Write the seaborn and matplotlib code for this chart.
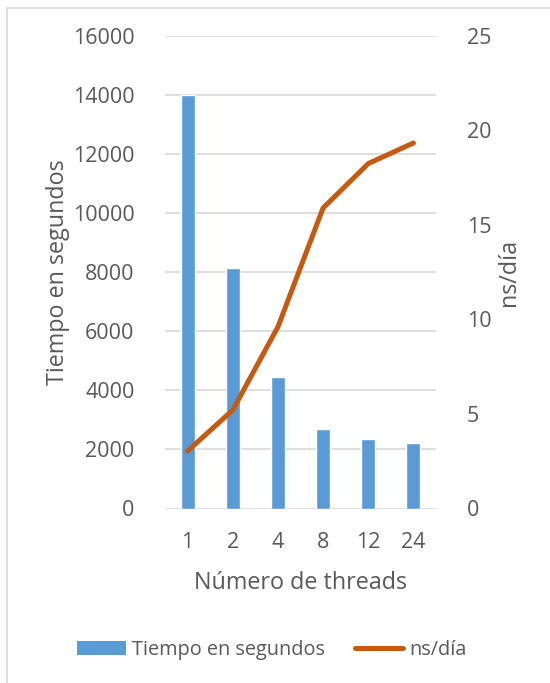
import matplotlib
matplotlib.use("Agg")
import matplotlib.pyplot as plt
import seaborn as sns
import pandas as pd
import numpy as np
from matplotlib.patches import Rectangle
from matplotlib.lines import Line2D
from matplotlib.patches import Patch

# Data
threads = ["1", "2", "4", "8", "12", "24"]
tiempo_segundos = [14000, 8150, 4440, 2680, 2340, 2210]
ns_dia = [3.04, 5.21, 9.61, 15.9, 18.25, 19.34]

left_ticks = [0, 2000, 4000, 6000, 8000, 10000, 12000, 14000, 16000]
right_ticks = [0, 5, 10, 15, 20, 25]

sns.set_theme(style="white")
plt.rcParams["font.family"] = ["Open Sans", "DejaVu Sans"]

BLUE = "#5B9BD5"
ORANGE = "#C55A11"
TEXT = "#595959"
GRID = "#D9D9D9"
FS_TICK = 15.5
FS_TITLE = 16.8
FS_LEG = 14.3

df = pd.DataFrame({"threads": threads, "tiempo": tiempo_segundos, "ns": ns_dia})

fig = plt.figure(figsize=(5.5, 6.83), dpi=100)
ax = fig.add_axes([165 / 550, 1 - 508.5 / 683, (436 - 165) / 550, (508.5 - 36) / 683])

sns.barplot(data=df, x="threads", y="tiempo", color=BLUE, saturation=1,
            width=0.31, ax=ax, zorder=3)
ax.set_ylim(0, 16000)
ax.set_yticks(left_ticks)
ax.set_yticklabels([str(v) for v in left_ticks])
ax.set_xlim(-0.5, len(threads) - 0.5)
ax.grid(axis="y", color=GRID, linewidth=1.2, zorder=0)
ax.set_axisbelow(True)
for s in ax.spines.values():
    s.set_visible(False)
ax.tick_params(axis="both", length=0, labelsize=FS_TICK, labelcolor=TEXT)
ax.tick_params(axis="y", pad=22)
ax.tick_params(axis="x", pad=17)
ax.set_xlabel("Número de threads", fontsize=FS_TITLE, color=TEXT, labelpad=13)
ax.set_ylabel("Tiempo en segundos", fontsize=FS_TITLE, color=TEXT, labelpad=2)

ax2 = ax.twinx()
sns.lineplot(x=np.arange(len(threads)), y=df["ns"], color=ORANGE, linewidth=3.6,
             ax=ax2, solid_capstyle="round", solid_joinstyle="round", zorder=4)
ax2.set_ylim(0, 25)
ax2.set_yticks(right_ticks)
ax2.set_yticklabels([str(v) for v in right_ticks])
ax2.set_xlim(-0.5, len(threads) - 0.5)
for s in ax2.spines.values():
    s.set_visible(False)
ax2.tick_params(axis="y", length=0, labelsize=FS_TICK, labelcolor=TEXT, pad=22)
ax2.set_ylabel("ns/día", fontsize=FS_TITLE, color=TEXT, labelpad=4)
ax2.grid(False)

handles = [Patch(facecolor=BLUE, edgecolor="none"),
           Line2D([0], [0], color=ORANGE, linewidth=3.6, solid_capstyle="round")]
leg = fig.legend(handles, ["Tiempo en segundos", "ns/día"], loc="center",
                 bbox_to_anchor=(272 / 550, 1 - 650 / 683), ncol=2, frameon=False,
                 fontsize=FS_LEG, handlelength=2.45, handleheight=0.7,
                 handletextpad=0.3, columnspacing=1.5)
for t in leg.get_texts():
    t.set_color(TEXT)

# Chart frame
fig.patches.append(Rectangle((7 / 550, -0.01), 1.2, 1 - 8 / 683 + 0.01,
                             transform=fig.transFigure, fill=False,
                             edgecolor="#D9D9D9", linewidth=1.2))

fig.savefig("out.png", dpi=100)
